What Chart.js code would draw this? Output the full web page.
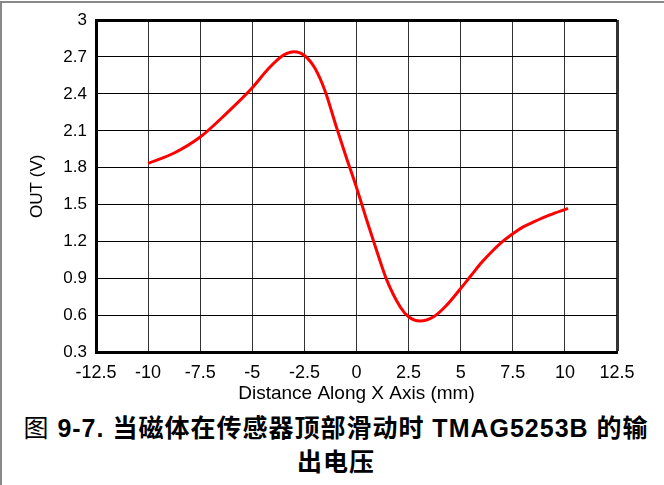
<!DOCTYPE html>
<html>
<head>
<meta charset="utf-8">
<script src="https://cdn.jsdelivr.net/npm/chart.js@4.4.1/dist/chart.umd.min.js"></script>
<style>
  body { margin: 0; background: #fff; }
  .page { position: relative; width: 664px; height: 485px; overflow: hidden; }
  .frame { position: absolute; left: 0; top: 1px; width: 664px; height: 490px;
           border-top: 2px solid #888; border-left: 2px solid #888; box-sizing: border-box; }
  #chart { position: absolute; left: 0; top: 0; }
  .caption { position: absolute; left: 4px; top: 411px; width: 664px; text-align: center;
             font-family: "Liberation Sans", "Noto Sans CJK SC", sans-serif; font-weight: bold;
             font-size: 25px; line-height: 34px; letter-spacing: 1px; color: #000; white-space: nowrap; }
  .caption .thin { font-weight: normal; }
</style>
</head>
<body>
<div class="page">
  <div class="frame"></div>
  <canvas id="chart" width="664" height="410"></canvas>
  <div class="caption"><span class="thin">图</span> 9-7. 当磁体在传感器顶部滑动时 TMAG5253B 的输<br>出电压</div>
</div>
<script>
// Distance along X axis (mm) and output voltage (V)
const distance = [-10, -8.75, -7.5, -6.25, -5, -4.25, -3.5, -3.0, -2.5, -2.0, -1.5, -1.0, -0.5, 0, 0.5, 1.0, 1.45, 2.1, 2.5, 3.05, 3.7, 4.3, 5.0, 5.5, 6.0, 6.5, 7.0, 7.5, 8.0, 8.5, 9.25, 10.15]
const outVolts = [1.835, 1.92, 2.05, 2.24, 2.45, 2.6, 2.715, 2.743, 2.712, 2.61, 2.42, 2.15, 1.89, 1.64, 1.37, 1.11, 0.89, 0.67, 0.59, 0.555, 0.59, 0.68, 0.82, 0.925, 1.03, 1.12, 1.2, 1.265, 1.32, 1.36, 1.415, 1.47]

const xTicks = [-12.5, -10, -7.5, -5, -2.5, 0, 2.5, 5, 7.5, 10, 12.5]
const yTicks = [0.3, 0.6, 0.9, 1.2, 1.5, 1.8, 2.1, 2.4, 2.7, 3]

const fontFamily = "'Liberation Sans', Arial, sans-serif"

const ctx = document.getElementById("chart").getContext("2d")

new Chart(ctx, {
  type: "scatter",
  data: {
    datasets: [
      {
        data: distance.map((x, i) => ({ x: x, y: outVolts[i] })),
        showLine: true,
        borderColor: "#ff0000",
        borderWidth: 3,
        pointRadius: 0,
        cubicInterpolationMode: "monotone",
      },
    ],
  },
  options: {
    responsive: false,
    animation: false,
    devicePixelRatio: 1,
    layout: { padding: { left: 0, right: 47, top: 20, bottom: 0 } },
    plugins: {
      legend: { display: false },
      tooltip: { enabled: false },
    },
    scales: {
      x: {
        type: "linear",
        min: -12.5,
        max: 12.5,
        afterBuildTicks: (scale) => { scale.ticks = xTicks.map((v) => ({ value: v })) },
        afterFit: (scale) => { scale.height = 57.5 },
        ticks: {
          color: "#000",
          padding: 10,
          maxRotation: 0,
          font: { family: fontFamily, size: 18 },
          callback: (v) => String(v),
        },
        grid: {
          color: "#333",
          lineWidth: (c) => (c.tick && c.tick.value === 12.5 ? 3 : 1),
          drawTicks: false,
        },
        border: { color: "#000", width: 3 },
        title: {
          display: true,
          text: "Distance Along X Axis (mm)",
          color: "#000",
          font: { family: fontFamily, size: 19 },
          padding: { top: 0, bottom: 5 },
        },
      },
      y: {
        type: "linear",
        min: 0.3,
        max: 3,
        afterBuildTicks: (scale) => { scale.ticks = yTicks.map((v) => ({ value: v })) },
        afterFit: (scale) => { scale.width = 96 },
        ticks: {
          color: "#000",
          padding: 9,
          font: { family: fontFamily, size: 17 },
          callback: (v) => String(v),
        },
        grid: {
          color: "#000",
          lineWidth: (c) => (c.tick && c.tick.value === 3 ? 3 : 1),
          drawTicks: false,
        },
        border: { color: "#000", width: 3 },
        title: {
          display: true,
          text: "OUT (V)",
          color: "#000",
          font: { family: fontFamily, size: 17 },
          padding: { top: 27, bottom: 0 },
        },
      },
    },
  },
})
</script>
</body>
</html>
